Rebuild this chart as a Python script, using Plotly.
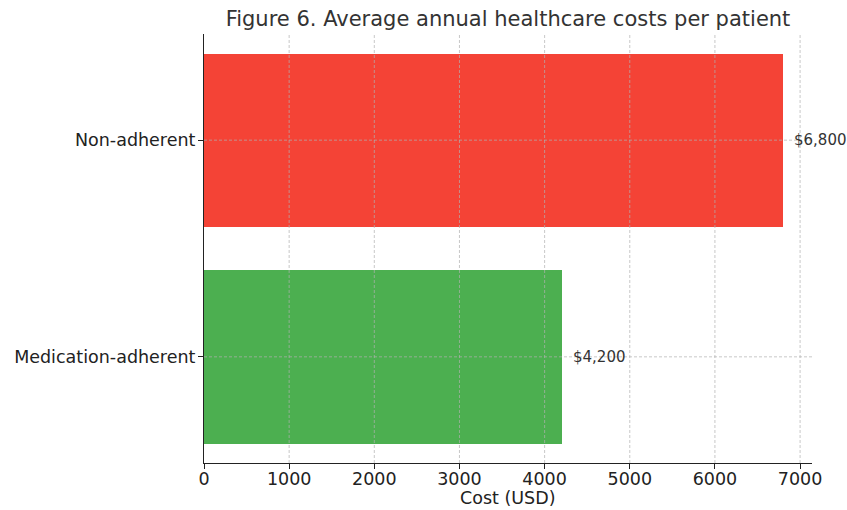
import plotly.graph_objects as go

# Data
groups = ["Medication-adherent", "Non-adherent"]
costs = [4200, 6800]
bar_colors = ["#4CAF50", "#F44336"]
x_ticks = [0, 1000, 2000, 3000, 4000, 5000, 6000, 7000]

x_max = max(costs) * 1.05
FONT = "DejaVu Sans"
GRID = "rgba(176,176,176,0.7)"

fig = go.Figure(
    go.Bar(
        x=costs,
        y=groups,
        orientation="h",
        width=0.8,
        marker=dict(color=bar_colors, line=dict(width=0)),
        hoverinfo="skip",
    )
)

# value labels to the right of each bar
for g, v in zip(groups, costs):
    fig.add_annotation(
        x=v, y=g, xref="x", yref="y",
        text=f"${v:,}", showarrow=False,
        xanchor="left", yanchor="middle", xshift=9,
        font=dict(family=FONT, size=15, color="#333333"),
    )

# x-axis title placed below the tick labels
fig.add_annotation(
    x=0.5, y=0, xref="x domain", yref="y domain",
    text="Cost (USD)", showarrow=False,
    xanchor="center", yanchor="middle", yshift=-35,
    font=dict(family=FONT, size=17.5, color="#222222"),
)

# dashed grid drawn on top of the bars
for t in x_ticks[1:]:
    fig.add_shape(
        type="line", xref="x", yref="y domain",
        x0=t, x1=t, y0=0, y1=1, layer="above",
        line=dict(color=GRID, width=1, dash="3px,2px"),
    )
for g in groups:
    fig.add_shape(
        type="line", xref="x domain", yref="y",
        x0=0, x1=1, y0=g, y1=g, layer="above",
        line=dict(color=GRID, width=1, dash="3px,2px"),
    )

fig.update_layout(
    width=847, height=510,
    margin=dict(l=204, r=35, t=34, b=47, autoexpand=False),
    paper_bgcolor="white", plot_bgcolor="white",
    showlegend=False, bargap=0,
    font=dict(family=FONT, color="#222222"),
    title=dict(
        text="Figure 6. Average annual healthcare costs per patient",
        x=(204 + 812) / 2 / 847, xanchor="center",
        y=1 - 19 / 510, yanchor="middle",
        font=dict(family=FONT, size=21, color="#333333"),
    ),
    xaxis=dict(
        range=[0, x_max], automargin=False,
        tickvals=x_ticks, ticktext=[str(t) for t in x_ticks],
        showgrid=False, zeroline=False,
        showline=True, linecolor="#222222", linewidth=1.2,
        ticks="outside", ticklen=5, tickwidth=1.2, tickcolor="#222222",
        ticklabelstandoff=-5,
        tickfont=dict(family=FONT, size=17.5, color="#222222"),
        fixedrange=True,
    ),
    yaxis=dict(
        type="category", categoryorder="array", categoryarray=groups,
        range=[-0.49, 1.49], automargin=False,
        showgrid=False, zeroline=False,
        showline=True, linecolor="#222222", linewidth=1.2,
        ticks="outside", ticklen=5, tickwidth=1.2, tickcolor="#222222",
        ticklabelstandoff=-1,
        tickfont=dict(family=FONT, size=17.5, color="#222222"),
        fixedrange=True,
    ),
)

fig.write_html("out.html")
